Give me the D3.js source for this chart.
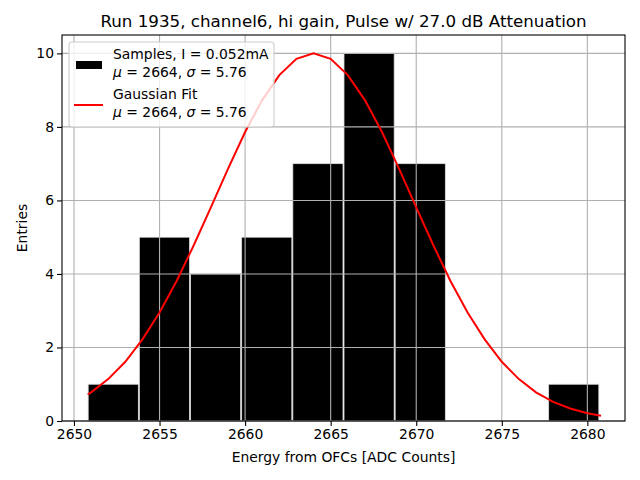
<!DOCTYPE html>
<html>
<head>
<meta charset="utf-8">
<script src="https://cdn.jsdelivr.net/npm/d3@7"></script>
<style>
  body { margin: 0; background: #fff; }
  text { font-family: "DejaVu Sans", sans-serif; }
</style>
</head>
<body>
<div id="chart"></div>
<script>
// histogram bins (left edges) and counts
const binEdges = [2650.8, 2653.79, 2656.78, 2659.77, 2662.76, 2665.75, 2668.74, 2671.73, 2674.72, 2677.71, 2680.7];
const counts = [1, 5, 4, 5, 7, 10, 7, 0, 0, 1];

// gaussian fit curve
const fitX = [2650.8, 2651, 2652, 2653, 2654, 2655, 2656, 2657, 2658, 2659, 2660, 2661, 2662, 2663, 2664,
              2665, 2666, 2667, 2668, 2669, 2670, 2671, 2672, 2673, 2674, 2675, 2676, 2677, 2678, 2679, 2680, 2680.8];
const fitY = [0.72, 0.78, 1.14, 1.61, 2.22, 2.95, 3.81, 4.78, 5.81, 6.86, 7.86, 8.73, 9.41, 9.85, 10.0,
              9.85, 9.41, 8.73, 7.86, 6.86, 5.81, 4.78, 3.81, 2.95, 2.22, 1.61, 1.14, 0.78, 0.52, 0.34, 0.21, 0.14];

const xTicks = [2650, 2655, 2660, 2665, 2670, 2675, 2680];
const yTicks = [0, 2, 4, 6, 8, 10];

const width = 640, height = 480;
const margin = {left: 62, right: 15, top: 35, bottom: 59};

const svg = d3.select("#chart").append("svg")
    .attr("width", width)
    .attr("height", height);

const x = d3.scaleLinear([2649.3, 2682.2], [margin.left, width - margin.right]);
const y = d3.scaleLinear([0, 10.5], [height - margin.bottom, margin.top]);

// bars
const bins = counts.map((c, i) => ({x0: binEdges[i], x1: binEdges[i + 1], n: c}));
svg.append("g").selectAll("rect")
    .data(bins.filter(d => d.n > 0))
    .enter()
    .append("rect")
    .attr("x", d => x(d.x0) + 0.5)
    .attr("width", d => x(d.x1) - x(d.x0) - 1)
    .attr("y", d => y(d.n))
    .attr("height", d => y(0) - y(d.n))
    .style("fill", "#000")
    .style("stroke", "#ddd")
    .style("stroke-width", 0.8);

// grid on top of bars
svg.append("g").selectAll("line")
    .data(xTicks)
    .enter()
    .append("line")
    .attr("x1", d => x(d)).attr("x2", d => x(d))
    .attr("y1", margin.top).attr("y2", height - margin.bottom)
    .style("stroke", "#b0b0b0").style("stroke-width", 1.1);
svg.append("g").selectAll("line")
    .data(yTicks)
    .enter()
    .append("line")
    .attr("x1", margin.left).attr("x2", width - margin.right)
    .attr("y1", d => y(d)).attr("y2", d => y(d))
    .style("stroke", "#b0b0b0").style("stroke-width", 1.1);

// fit curve
const line = d3.line().x(d => x(d[0])).y(d => y(d[1]));
svg.append("path")
    .datum(fitX.map((v, i) => [v, fitY[i]]))
    .attr("d", line)
    .style("fill", "none")
    .style("stroke", "#ff0000")
    .style("stroke-width", 2);

// axes
const xAxis = d3.axisBottom(x).tickValues(xTicks).tickSize(5).tickPadding(3).tickFormat(d3.format("d"));
const yAxis = d3.axisLeft(y).tickValues(yTicks).tickSize(5).tickPadding(3);

const gx = svg.append("g")
    .attr("transform", `translate(0, ${height - margin.bottom})`)
    .call(xAxis);
const gy = svg.append("g")
    .attr("transform", `translate(${margin.left}, 0)`)
    .call(yAxis);
[gx, gy].forEach(g => {
    g.select(".domain").remove();
    g.selectAll("text").style("font-size", "13.9px").style("fill", "#000")
        .style("font-family", "DejaVu Sans");
    g.selectAll("line").style("stroke", "#000").style("stroke-width", 1.1);
});

// frame
svg.append("rect")
    .attr("x", margin.left).attr("y", margin.top)
    .attr("width", width - margin.left - margin.right)
    .attr("height", height - margin.top - margin.bottom)
    .style("fill", "none").style("stroke", "#000").style("stroke-width", 1.1);

// title and labels
svg.append("text")
    .attr("x", (margin.left + width - margin.right) / 2).attr("y", 27)
    .attr("text-anchor", "middle")
    .style("font-size", "16.7px")
    .text("Run 1935, channel6, hi gain, Pulse w/ 27.0 dB Attenuation");
svg.append("text")
    .attr("x", (margin.left + width - margin.right) / 2).attr("y", 462)
    .attr("text-anchor", "middle")
    .style("font-size", "13.9px")
    .text("Energy from OFCs [ADC Counts]");
svg.append("text")
    .attr("transform", `translate(27, ${(margin.top + height - margin.bottom) / 2}) rotate(-90)`)
    .attr("text-anchor", "middle")
    .style("font-size", "13.9px")
    .text("Entries");

// legend
const lg = svg.append("g");
lg.append("rect")
    .attr("x", 69).attr("y", 42).attr("width", 205).attr("height", 85).attr("rx", 3)
    .style("fill", "#fff").style("fill-opacity", 0.8)
    .style("stroke", "#ccc").style("stroke-width", 1.1);
lg.append("rect")
    .attr("x", 76).attr("y", 61).attr("width", 26).attr("height", 8)
    .style("fill", "#000");
lg.append("line")
    .attr("x1", 74).attr("x2", 103).attr("y1", 105).attr("y2", 105)
    .style("stroke", "#ff0000").style("stroke-width", 2);

function muSigma(t) {
    t.append("tspan").style("font-style", "italic").text("μ");
    t.append("tspan").text(" = 2664, ");
    t.append("tspan").style("font-style", "italic").text("σ");
    t.append("tspan").text(" = 5.76");
}
lg.append("text").attr("x", 113).attr("y", 59).style("font-size", "13.9px").text("Samples, I = 0.052mA");
muSigma(lg.append("text").attr("x", 113).attr("y", 77).style("font-size", "13.9px"));
lg.append("text").attr("x", 113).attr("y", 99).style("font-size", "13.9px").text("Gaussian Fit");
muSigma(lg.append("text").attr("x", 113).attr("y", 117).style("font-size", "13.9px"));
</script>
</body>
</html>
